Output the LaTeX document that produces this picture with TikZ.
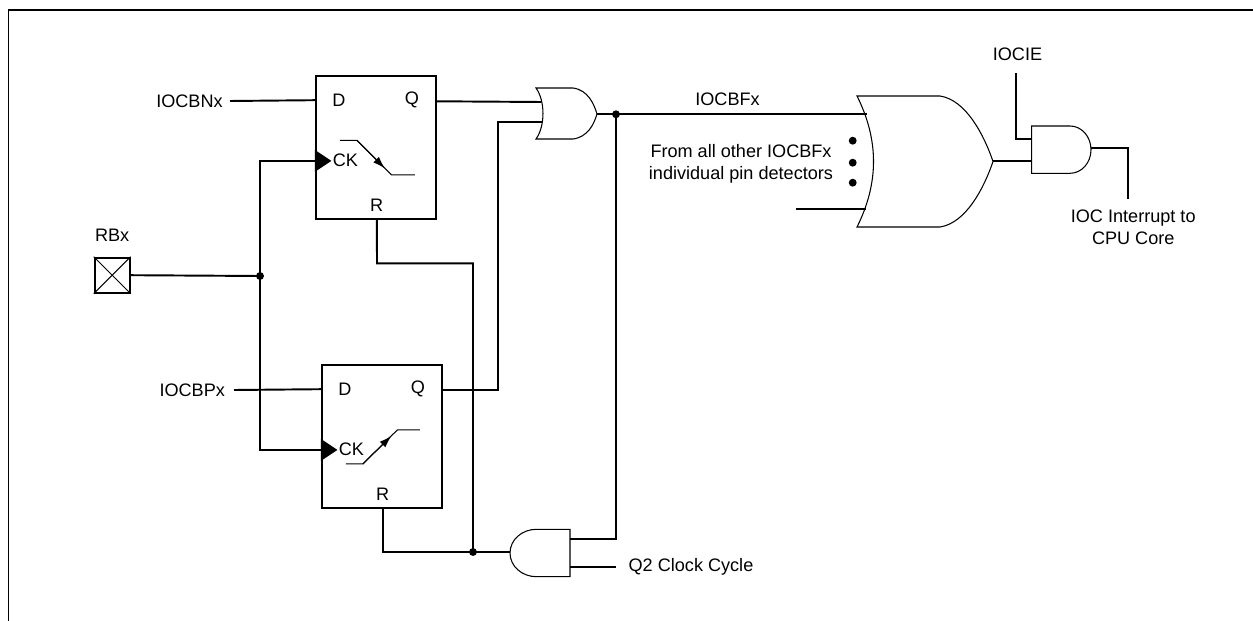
\documentclass[tikz,border=0pt]{standalone}
\usepackage{fontspec}
\setmainfont{Liberation Sans}
\usetikzlibrary{arrows.meta,calc,positioning}
\newcommand{\diagfont}{\fontsize{10.3}{12.3}\selectfont}

\begin{document}
\begin{tikzpicture}[x=0.02cm,y=-0.02cm]
  \tikzstyle{wire}=[line width=1.1pt]
  \tikzstyle{gate}=[line width=0.6pt]
  \tikzstyle{ffbox}=[draw,line width=1.1pt,minimum width=2.4cm,minimum height=2.86cm,inner sep=0pt]
  \tikzstyle{txt}=[font=\diagfont,inner sep=0pt]
  \tikzstyle{jdot}=[circle,fill,inner sep=0pt,minimum size=4.5pt]
  \tikzstyle{edge}=[gate,-{Latex[length=7pt,width=4.5pt]}]

  \useasboundingbox (0,0) rectangle (1253,621);
  \draw[line width=1pt] (8.5,621) -- (8.5,10.3) -- (1253,10.3);

  % flip-flops
  \node[ffbox] (ffn) at (375.85,147.35) {};
  \node[ffbox] (ffp) at (381.85,436.35) {};
  \foreach \ff in {ffn,ffp} {
    \node[txt] (\ff-dl) at ($(\ff.north west)+(24,25)$) {D};
    \node[txt] (\ff-ql) at ($(\ff.north east)+(-25,25)$) {Q};
    \node[txt] (\ff-ckl) at ($(\ff.north west)+(30.5,85.5)$) {CK};
    \node[txt] (\ff-rl) at ($(\ff.south)+(0.8,-15)$) {R};
    \coordinate (\ff-d) at ($(\ff.north west)+(0,25.3)$);
    \coordinate (\ff-q) at ($(\ff.north east)+(0,26.4)$);
    \coordinate (\ff-ck) at ($(\ff.north west)+(0,86)$);
    \coordinate (\ff-r) at ($(\ff.south)+(1,0)$);
    \fill (\ff-ck) -- ++(0,-11) -- ++(16.5,11) -- ++(-16.5,11) -- cycle;
  }
  \begin{scope}[shift={(ffn.north west)}]
    \draw[gate] (25,65.5) -- (42,65.5) -- (76.5,100) -- (100,100);
    \draw[edge] (42,65.5) -- (70,93.5);
  \end{scope}
  \begin{scope}[shift={(ffp.north west)}]
    \draw[gate] (25,100) -- (42,100) -- (76.5,66) -- (99,66);
    \draw[edge] (42,100) -- (70.5,72);
  \end{scope}

  % gates
  \draw[gate] (536,88) -- (573,88) .. controls (588,90) and (594,104) .. (597,114)
    .. controls (594,124) and (588,137) .. (573,139) -- (536,139)
    .. controls (545.3,126) and (545.3,101) .. (536,88) -- cycle;
  \coordinate (or1-in1) at (541.5,102);
  \coordinate (or1-in2) at (542,122.3);
  \coordinate (or1-out) at (597,114.3);

  \draw[gate] (857,96) -- (940,96) .. controls (966,100) and (984,135) .. (993,161.5)
    .. controls (984,188) and (966,223) .. (940,227) -- (857,227)
    .. controls (879,183) and (879,140) .. (857,96) -- cycle;
  \coordinate (bor-in1) at (867,114.3);
  \coordinate (bor-in2) at (866,208.7);
  \coordinate (bor-out) at (993,160.8);

  \draw[gate] (1031.7,126) -- (1070,126) .. controls (1081.6,126) and (1091,136.6) .. (1091,149.7)
    .. controls (1091,162.8) and (1081.6,173.3) .. (1070,173.3) -- (1031.7,173.3) -- cycle;
  \coordinate (and3-in1) at (1031.7,139.3);
  \coordinate (and3-in2) at (1031.7,160.8);
  \coordinate (and3-out) at (1091,148.3);

  \draw[gate] (570,529.3) -- (536.5,529.3) .. controls (521.8,529.3) and (510,539.9) .. (510,553)
    .. controls (510,566.1) and (521.8,576.7) .. (536.5,576.7) -- (570,576.7) -- cycle;
  \coordinate (and2-in1) at (570,539);
  \coordinate (and2-in2) at (570,566.7);
  \coordinate (and2-out) at (510,552);

  % pad and inputs
  \node[draw,line width=1.1pt,minimum size=0.7cm,inner sep=0pt] (rbx) at (112.2,275.2) {};
  \draw[gate] (rbx.north west) -- (rbx.south east) (rbx.north east) -- (rbx.south west);
  \node[txt,above=8.5pt of rbx] (rbxl) {RBx};

  \coordinate (iocbn-end) at (230,101);
  \coordinate (iocbp-end) at (234,390);
  \node[txt,anchor=east] (iocbn) at ([xshift=-4pt]iocbn-end) {IOCBNx};
  \node[txt,anchor=east] (iocbp) at ([xshift=-5pt]iocbp-end) {IOCBPx};
  \draw[wire] (iocbn-end) -- (ffn-d);
  \draw[wire] (iocbp-end) -- (ffp-d);

  \coordinate (j1) at (260,276);
  \coordinate (j2) at (616,114.3);
  \coordinate (j3) at (473,552);
  \coordinate (qbend) at (497.7,122.3);
  \coordinate (rbend) at (377,263.3);

  \draw[wire] (rbx.east) -- (j1);
  \draw[wire] (ffn-ck) -| (ffp-ck -| j1) -- (ffp-ck);
  \draw[wire] (ffn-q) -- (or1-in1);
  \draw[wire] (ffp-q) -| (qbend) -- (or1-in2);
  \draw[wire] (or1-out) -- (j2) -- (bor-in1);
  \draw[wire] (j2) |- (and2-in1);
  \draw[wire] (and2-out) -- (j3) -| (ffp-r);
  \draw[wire] (j3) |- (rbend) -- (ffn-r);
  \node[jdot] at (j1) {};
  \node[jdot] at (j2) {};
  \node[jdot] at (j3) {};

  \coordinate (q2end) at (616,566.7);
  \draw[wire] (and2-in2) -- (q2end);
  \node[txt,anchor=west] (q2clk) at ([xshift=7pt]q2end) {Q2 Clock Cycle};

  \node[txt] (iocbf) at (727.5,99) {IOCBFx};
  \node[txt,align=center] (others) at (741,163.8) {From all other IOCBFx\\individual pin detectors};
  \foreach \y in {140.7,162.7,182.7}
    \node[jdot] at (852.7,\y) {};
  \coordinate (others-end) at (796,208.7);
  \draw[wire] (others-end) -- (bor-in2);

  \draw[wire] (bor-out) -- (and3-in2);
  \coordinate (iocie-end) at (1015.7,73.3);
  \node[txt,above=7pt of iocie-end,xshift=1pt] (iocie) {IOCIE};
  \draw[wire] (iocie-end) |- (and3-in1);

  \coordinate (irq-end) at (1128.3,199.3);
  \draw[wire] (and3-out) -| (irq-end);
  \node[txt,align=center,below=6pt of irq-end,xshift=2.8pt] (irq) {IOC Interrupt to\\CPU Core};
\end{tikzpicture}
\end{document}
